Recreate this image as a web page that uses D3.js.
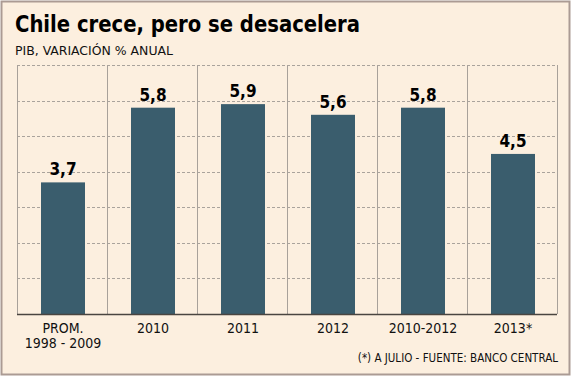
<!DOCTYPE html>
<html>
<head>
<meta charset="utf-8">
<script src="https://cdn.jsdelivr.net/npm/d3@7"></script>
<style>
	html, body { margin: 0; padding: 0; background: #fff; }
	svg { display: block; }
</style>
</head>
<body>
<div id="chart"></div>
<script>
	"use strict";
	// datos
	var categories = ["PROM.|1998 - 2009", "2010", "2011", "2012", "2010-2012", "2013*"];
	var values = [3.7, 5.8, 5.9, 5.6, 5.8, 4.5];
	var valueLabels = ["3,7", "5,8", "5,9", "5,6", "5,8", "4,5"];
	var gridTicks = [1, 2, 3, 4, 5, 6, 7];

	var width = 572, height = 377;
	var plot = { left : 17, right : 557, top : 65, bottom : 314 };
	var font = "'DejaVu Sans Condensed', 'DejaVu Sans', sans-serif";

	var svg = d3.select("#chart").append("svg")
			.attr("width", width).attr("height", height);

	svg.append("rect").attr("x", 1.5).attr("y", 1.5)
			.attr("width", width - 4).attr("height", height - 4)
			.attr("fill", "#fcefdf").attr("stroke", "#ab9b94").attr("stroke-width", 2);

	var x = d3.scaleBand().domain(d3.range(categories.length))
			.range([plot.left, plot.right]).paddingInner(0).paddingOuter(0);
	var y = d3.scaleLinear().domain([0, 7]).range([plot.bottom, plot.top]);

	// lineas horizontales punteadas
	svg.append("g").selectAll("line").data(gridTicks).enter().append("line")
			.attr("x1", plot.left).attr("x2", plot.right)
			.attr("y1", function(d) { return Math.round(y(d)) + 0.5; })
			.attr("y2", function(d) { return Math.round(y(d)) + 0.5; })
			.attr("stroke", "#aaa39c").attr("stroke-dasharray", "3,2");

	// separadores verticales
	var edges = d3.range(categories.length + 1).map(function(i) {
		return i < categories.length ? x(i) : plot.right;
	});
	svg.append("g").selectAll("line").data(edges).enter().append("line")
			.attr("x1", function(d) { return Math.round(d) + 0.5; })
			.attr("x2", function(d) { return Math.round(d) + 0.5; })
			.attr("y1", plot.top).attr("y2", plot.bottom)
			.attr("stroke", "#a8a19a").attr("stroke-width", 1);

	// barras
	var barW = 44;
	svg.append("g").selectAll("rect").data(values).enter().append("rect")
			.attr("x", function(d, i) { return x(i) + x.bandwidth() / 2 - barW / 2 + 1; })
			.attr("y", function(d) { return y(d); })
			.attr("width", barW)
			.attr("height", function(d) { return y(0) - y(d); })
			.attr("fill", "#3a5d6d");

	// linea base
	svg.append("line").attr("x1", plot.left).attr("x2", plot.right)
			.attr("y1", plot.bottom + 0.5).attr("y2", plot.bottom + 0.5)
			.attr("stroke", "#4a4540").attr("stroke-width", 1.5);

	// etiquetas de valor
	svg.append("g").selectAll("text").data(values).enter().append("text")
			.attr("x", function(d, i) { return x(i) + x.bandwidth() / 2 + 1; })
			.attr("y", function(d) { return y(d) - 7; })
			.attr("text-anchor", "middle")
			.attr("font-family", font).attr("font-weight", "bold").attr("font-size", 17)
			.attr("fill", "#000")
			.text(function(d, i) { return valueLabels[i]; });

	// categorias
	var cat = svg.append("g").selectAll("text").data(categories).enter().append("text")
			.attr("x", function(d, i) { return x(i) + x.bandwidth() / 2 + 1; })
			.attr("y", 333)
			.attr("text-anchor", "middle")
			.attr("font-family", font).attr("font-size", 14)
			.attr("fill", "#111");
	cat.selectAll("tspan").data(function(d) { return d.split("|"); }).enter().append("tspan")
			.attr("x", function() { return d3.select(this.parentNode).attr("x"); })
			.attr("dy", function(d, i) { return i === 0 ? 0 : 15; })
			.text(function(d) { return d; });

	// titulos
	svg.append("text").attr("x", 15).attr("y", 32)
			.attr("font-family", font).attr("font-weight", "bold").attr("font-size", 23)
			.attr("fill", "#000").attr("textLength", 345).attr("lengthAdjust", "spacingAndGlyphs")
			.text("Chile crece, pero se desacelera");
	svg.append("text").attr("x", 15).attr("y", 55)
			.attr("font-family", font).attr("font-size", 13)
			.attr("fill", "#111").attr("textLength", 158).attr("lengthAdjust", "spacingAndGlyphs")
			.text("PIB, VARIACIÓN % ANUAL");

	svg.append("text").attr("x", 558).attr("y", 362)
			.attr("text-anchor", "end")
			.attr("font-family", font).attr("font-size", 11.5)
			.attr("fill", "#111")
			.text("(*) A JULIO - FUENTE: BANCO CENTRAL");
</script>
</body>
</html>
